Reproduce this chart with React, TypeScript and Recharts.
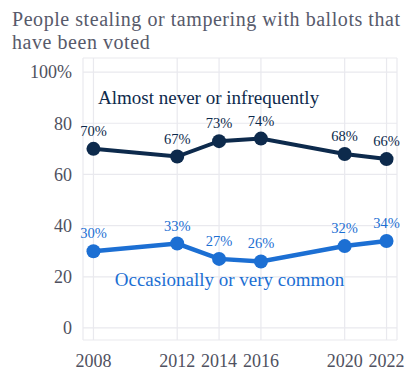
import { LineChart, Line, XAxis, YAxis, CartesianGrid, LabelList, ReferenceDot } from 'recharts';

const YEARS = [2008, 2012, 2014, 2016, 2020, 2022];
const INFREQUENT = [70, 67, 73, 74, 68, 66];
const COMMON = [30, 33, 27, 26, 32, 34];
const Y_TICKS = [0, 20, 40, 60, 80, 100];

const NAVY = '#0d2a4c';
const BLUE = '#1c6fd3';
const FONT = '"Liberation Serif", "DejaVu Serif", serif';

const data = YEARS.map((year, i) => ({
  year,
  infrequent: INFREQUENT[i],
  common: COMMON[i],
}));

const pct = (v: any) => `${v}%`;

export default function App() {
  return (
    <div style={{ position: 'absolute', left: 0, top: 0, width: 412, height: 375, background: '#fff', fontFamily: FONT }}>
      <div style={{ position: 'absolute', left: 12, top: 8, fontSize: 20, lineHeight: '22.5px', letterSpacing: 0.55, color: '#575a6b', whiteSpace: 'nowrap' }}>
        People stealing or tampering with ballots that
        <br />
        have been voted
      </div>
      <LineChart width={412} height={375} data={data} margin={{ top: 58, right: 15, bottom: 0, left: 0 }}>
        <CartesianGrid stroke="#e9e9ee" strokeWidth={1.2} />
        <XAxis
          dataKey="year"
          type="number"
          domain={[2007.5, 2022.5]}
          ticks={YEARS}
          axisLine={false}
          tickLine={false}
          height={35}
          tickMargin={8}
          tick={{ fill: '#4f5160', fontSize: 18, fontFamily: FONT }}
        />
        <YAxis
          type="number"
          domain={[-4.7, 105.5]}
          ticks={Y_TICKS}
          tickFormatter={(v) => (v === 100 ? '100%' : `${v}`)}
          axisLine={false}
          tickLine={false}
          width={83}
          tickMargin={5}
          tick={{ fill: '#4f5160', fontSize: 18, fontFamily: FONT }}
        />
        <Line
          dataKey="infrequent"
          stroke={NAVY}
          strokeWidth={4}
          dot={{ r: 7, fill: NAVY, stroke: NAVY, strokeWidth: 0 }}
          isAnimationActive={false}
        >
          <LabelList dataKey="infrequent" position="top" offset={13} formatter={pct} fill={NAVY} fontSize={14.5} fontFamily={FONT} />
        </Line>
        <Line
          dataKey="common"
          stroke={BLUE}
          strokeWidth={4.5}
          dot={{ r: 7, fill: BLUE, stroke: BLUE, strokeWidth: 0 }}
          isAnimationActive={false}
        >
          <LabelList dataKey="common" position="top" offset={13} formatter={pct} fill={BLUE} fontSize={14.5} fontFamily={FONT} />
        </Line>
        <ReferenceDot
          x={2013.5}
          y={90.2}
          r={0}
          fill="none"
          stroke="none"
          label={{ value: 'Almost never or infrequently', position: 'center', fill: NAVY, fontSize: 19, fontFamily: FONT }}
        />
        <ReferenceDot
          x={2014.5}
          y={19.1}
          r={0}
          fill="none"
          stroke="none"
          label={{ value: 'Occasionally or very common', position: 'center', fill: BLUE, fontSize: 19, fontFamily: FONT }}
        />
      </LineChart>
    </div>
  );
}
